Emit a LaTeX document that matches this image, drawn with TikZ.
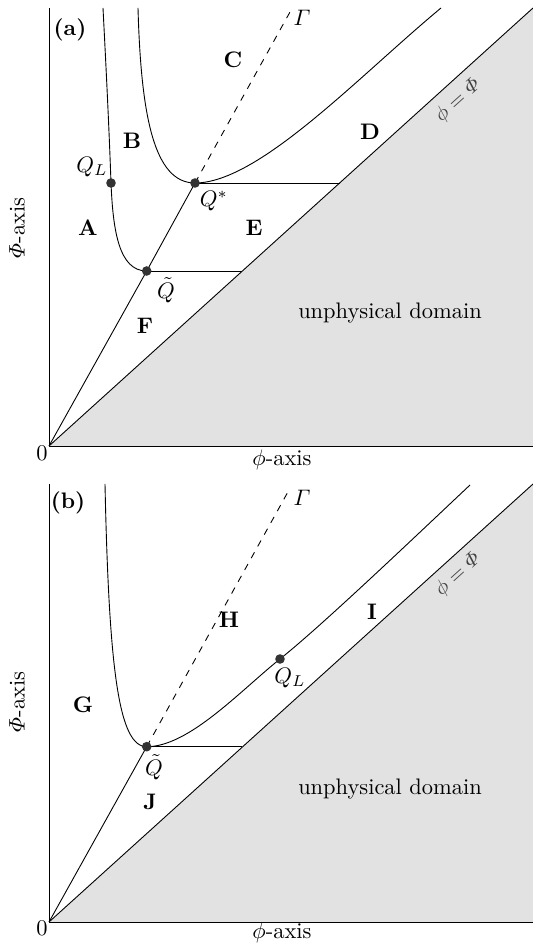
\documentclass[tikz,border=0pt]{standalone}
\usepackage{amsmath}
\definecolor{unphys}{RGB}{226,226,226}

\begin{document}
\begin{tikzpicture}[x=0.01566cm, y=0.01566cm,
    region/.style={font=\bfseries},
    dotfill/.style={fill=black!80},
    diaglabel/.style={font=\small, text=black!75, rotate=42}]
  \useasboundingbox (0,0) rectangle (533,944);

  % panel (a)
  \begin{scope}[shift={(49,498)}]
    \coordinate (Oa) at (0,0);
    \coordinate (Ya) at (0,438);
    \coordinate (Xa) at (484,0);
    \coordinate (Da) at (484,438);
    \coordinate (QTa) at (97.7,175);
    \coordinate (QSa) at (146,263);
    \coordinate (QLa) at (62,263);
    \coordinate (HTa) at (193.4,175);
    \coordinate (HSa) at (290.6,263);
    \coordinate (Ga) at (241,434);
    \coordinate (T1a) at (54,438);
    \coordinate (T2a) at (89,438);
    \coordinate (T3a) at (392,438);

    \fill[unphys] (Oa) -- (Da) -- (Xa) -- cycle;
    \draw (Ya) -- (Oa) -- (Xa);
    \draw (Oa) -- (Da);
    \draw (Oa) -- (QTa) -- (QSa);
    \draw[dashed] (QSa) -- (Ga);
    \draw (QTa) -- (HTa);
    \draw (QSa) -- (HSa);
    \draw (T1a) .. controls (57,380) and (60,320) .. (QLa)
                .. controls (64,215) and (70,175) .. (QTa);
    \draw (T2a) .. controls (92,330) and (105,263) .. (QSa)
                .. controls (210,263) and (310,370) .. (T3a);
    \fill[dotfill] (QLa) circle (4.8);
    \fill[dotfill] (QTa) circle (4.8);
    \fill[dotfill] (QSa) circle (4.8);

    \node (taga) at (21,416) {\textbf{(a)}};
    \node (gama) at (253,428) {$\varGamma$};
    \node[region] (regA) at (39,218) {A};
    \node[region] (regB) at (83,305) {B};
    \node[region] (regC) at (184,386) {C};
    \node[region] (regD) at (321,314) {D};
    \node[region] (regE) at (205,218) {E};
    \node[region] (regF) at (96,120) {F};
    \node (lblQLa) at (43,279) {$Q_L$};
    \node (lblQSa) at (165,245) {$Q^{*}$};
    \node (lblQTa) at (117,156) {$\tilde{Q}$};
    \node (unpa) at (341,133) {unphysical domain};
    \node[diaglabel] (eqa) at (409,345) {$\phi=\varPhi$};
    \node[rotate=90] (yaxa) at (-32,218) {$\varPhi$-axis};
    \node (xaxa) at (233,-14) {$\phi$-axis};
    \node (zeroa) at (-7,-7) {0};
  \end{scope}

  % panel (b)
  \begin{scope}[shift={(49,22)}]
    \coordinate (Ob) at (0,0);
    \coordinate (Yb) at (0,438);
    \coordinate (Xb) at (484,0);
    \coordinate (Db) at (484,438);
    \coordinate (QTb) at (97.7,175.3);
    \coordinate (QLb) at (231,263);
    \coordinate (HTb) at (193.4,175.3);
    \coordinate (Gb) at (240,432);
    \coordinate (T1b) at (56,438);
    \coordinate (T2b) at (421,437);

    \fill[unphys] (Ob) -- (Db) -- (Xb) -- cycle;
    \draw (Yb) -- (Ob) -- (Xb);
    \draw (Ob) -- (Db);
    \draw (Ob) -- (QTb);
    \draw[dashed] (QTb) -- (Gb);
    \draw (QTb) -- (HTb);
    \draw (T1b) .. controls (60,250) and (70,175.3) .. (QTb)
                .. controls (140,175.3) and (191,231) .. (QLb)
                .. controls (271,295) and (350,370) .. (T2b);
    \fill[dotfill] (QTb) circle (4.8);
    \fill[dotfill] (QLb) circle (4.8);

    \node (tagb) at (19,419) {\textbf{(b)}};
    \node (gamb) at (253,424) {$\varGamma$};
    \node[region] (regG) at (34,217) {G};
    \node[region] (regH) at (180,302) {H};
    \node[region] (regI) at (323,310) {I};
    \node[region] (regJ) at (101,120) {J};
    \node (lblQTb) at (105,155) {$\tilde{Q}$};
    \node (lblQLb) at (241,244) {$Q_L$};
    \node (unpb) at (341,133) {unphysical domain};
    \node[diaglabel] (eqb) at (409,347) {$\phi=\varPhi$};
    \node[rotate=90] (yaxb) at (-32,220) {$\varPhi$-axis};
    \node (xaxb) at (233,-11) {$\phi$-axis};
    \node (zerob) at (-7,-6) {0};
  \end{scope}
\end{tikzpicture}
\end{document}
